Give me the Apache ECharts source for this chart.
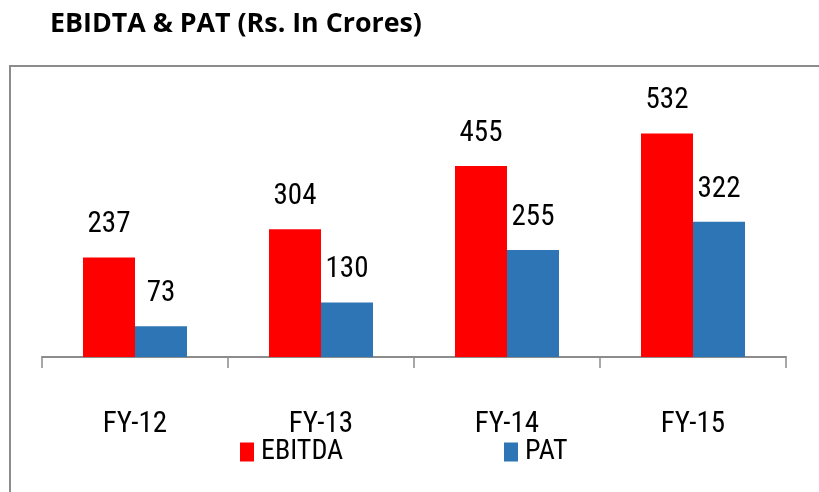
<!DOCTYPE html>
<html><head><meta charset="utf-8">
<script src="https://cdn.jsdelivr.net/npm/echarts@6/dist/echarts.min.js"></script>
<style>html,body{margin:0;padding:0;background:#fff}#c{width:819px;height:492px}</style>
</head><body><div id="c"></div>
<script>
const categories = ['FY-12', 'FY-13', 'FY-14', 'FY-15'];
const ebitda = [237, 304, 455, 532];
const pat = [73, 130, 255, 322];
const seriesNames = ['EBITDA', 'PAT'];

const COND = '"Roboto Condensed", "Liberation Sans Narrow", sans-serif';
const chart = echarts.init(document.getElementById('c'), null, {renderer: 'canvas'});
const labelStyle = {show: true, position: 'top', distance: 18, fontFamily: COND, fontSize: 29, color: '#000'};
chart.setOption({
  animation: false,
  title: {
    text: 'EBIDTA & PAT (Rs. In Crores)',
    left: 45, top: 6,
    textStyle: {fontFamily: '"Open Sans"', fontWeight: 'bold', fontSize: 26.8, color: '#000'}
  },
  graphic: [{
    type: 'rect', silent: true, z: -1,
    shape: {x: 10, y: 66, width: 900, height: 500},
    style: {fill: 'none', stroke: '#8c8c8c', lineWidth: 2}
  }],
  legend: [
    {
      left: 235, top: 433, itemWidth: 14, itemHeight: 19, icon: 'rect',
      textStyle: {fontFamily: COND, fontSize: 28, color: '#000', padding: [4, 0, 0, 2]},
      data: [seriesNames[0]]
    },
    {
      left: 499, top: 433, itemWidth: 14, itemHeight: 19, icon: 'rect',
      textStyle: {fontFamily: COND, fontSize: 28, color: '#000', padding: [4, 0, 0, 2]},
      data: [seriesNames[1]]
    }
  ],
  grid: {left: 42, right: 33, top: 105, bottom: 135},
  xAxis: {
    type: 'category', data: categories,
    axisLine: {lineStyle: {color: '#8c8c8c', width: 2}},
    axisTick: {show: true, length: 11, lineStyle: {color: '#8c8c8c', width: 1.5}},
    axisLabel: {fontFamily: COND, fontSize: 29, color: '#000', margin: 53}
  },
  yAxis: {
    type: 'value', min: 0, max: 600, show: false, splitLine: {show: false}
  },
  series: [
    {
      name: seriesNames[0], type: 'bar', data: ebitda, barWidth: 52, barGap: '0%',
      itemStyle: {color: '#FF0000'}, label: labelStyle
    },
    {
      name: seriesNames[1], type: 'bar', data: pat, barWidth: 52, barGap: '0%',
      itemStyle: {color: '#2E75B6'}, label: labelStyle
    }
  ]
});
</script></body></html>
